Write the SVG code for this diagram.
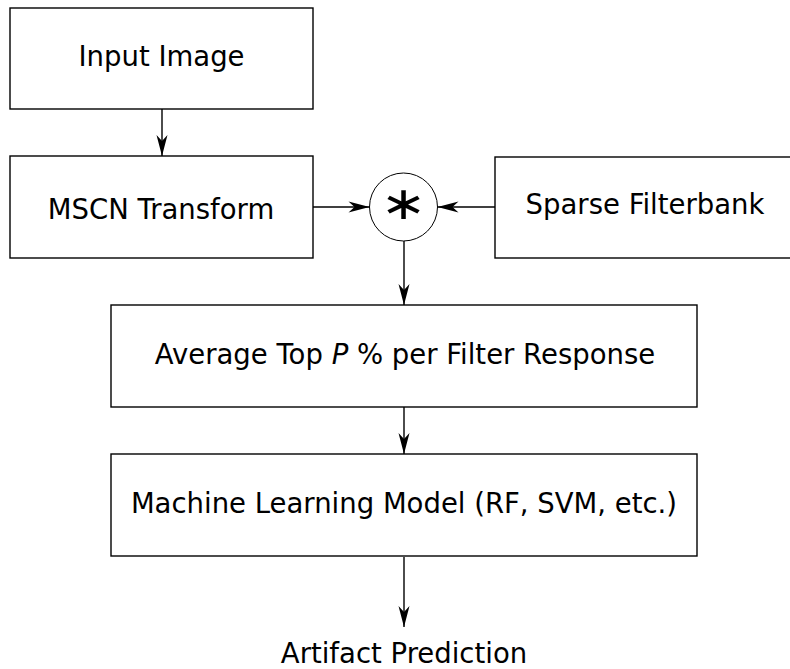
<svg xmlns="http://www.w3.org/2000/svg" width="790" height="669" viewBox="0 0 790 669">
<defs>
<style>
.box{fill:#fff;stroke:#000;stroke-width:1.4}
.lbl{font-family:"DejaVu Sans",sans-serif;font-size:27.5px;fill:#000;text-anchor:middle}
.con{stroke:#000;stroke-width:1.4;fill:none}
</style>
<marker id="ah" viewBox="-22 -7 23 14" refX="0" refY="0" markerWidth="23" markerHeight="14" markerUnits="userSpaceOnUse" orient="auto">
<path d="M0,0 L-21,-5.5 L-15,0 L-21,5.5 Z" fill="#000"/>
</marker>
</defs>
<rect width="790" height="669" fill="#fff"/>
<g id="input-image">
<rect class="box" x="10" y="8" width="303" height="101"/>
<text class="lbl" x="161.5" y="66">Input Image</text>
</g>
<g id="mscn">
<rect class="box" x="10" y="156" width="303" height="102"/>
<text class="lbl" x="161" y="219">MSCN Transform</text>
</g>
<g id="conv">
<circle cx="403.5" cy="207" r="34" fill="#fff" stroke="#000" stroke-width="1"/>
<text transform="translate(403.5 219) scale(1.2 1)" x="0" y="0" font-family="DejaVu Sans, sans-serif" font-size="46" text-anchor="middle">∗</text>
</g>
<g id="sparse-filterbank">
<rect class="box" x="495" y="157" width="310" height="101"/>
<text class="lbl" x="645" y="214">Sparse Filterbank</text>
</g>
<g id="average">
<rect class="box" x="111" y="305" width="586" height="102"/>
<text class="lbl" x="405" y="364">Average Top <tspan font-style="italic">P</tspan> % per Filter Response</text>
</g>
<g id="ml-model">
<rect class="box" x="111" y="454" width="586" height="102"/>
<text class="lbl" x="404" y="513">Machine Learning Model (RF, SVM, etc.)</text>
</g>
<g id="prediction">
<text class="lbl" x="404" y="663">Artifact Prediction</text>
</g>
<g id="connectors">
<line class="con" x1="162" y1="109" x2="162" y2="156" marker-end="url(#ah)"/>
<line class="con" x1="313" y1="207" x2="369.5" y2="207" marker-end="url(#ah)"/>
<line class="con" x1="495" y1="207" x2="437.5" y2="207" marker-end="url(#ah)"/>
<line class="con" x1="404" y1="241" x2="404" y2="305" marker-end="url(#ah)"/>
<line class="con" x1="404" y1="407" x2="404" y2="454" marker-end="url(#ah)"/>
<line class="con" x1="404" y1="557" x2="404" y2="627" marker-end="url(#ah)"/>
</g>
</svg>
